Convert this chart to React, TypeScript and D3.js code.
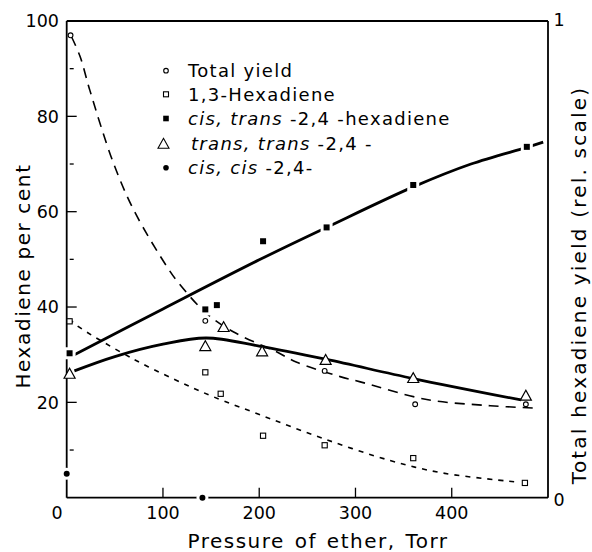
import React from 'react';
import * as d3 from 'd3';

const W = 592;
const H = 552;

// ---- observed points (pressure in Torr) ----
const totalP = [4, 144, 268, 362, 477];
const totalRel = [0.97, 0.371, 0.266, 0.196, 0.196];

const hex13P = [3, 144, 160, 204, 268, 360, 476];
const hex13 = [37, 26.3, 21.8, 13.0, 11.0, 8.3, 3.1];

const ctP = [3, 144, 156, 204, 270, 360, 478];
const ct = [30.3, 39.5, 40.4, 53.8, 56.7, 65.6, 73.6];

const ttP = [3, 144, 163, 203, 269, 360, 477];
const tt = [26.1, 31.9, 35.9, 30.8, 29.0, 25.2, 21.5];

const ccP = [0, 141];
const cc = [5.0, 0];

// ---- hand-drawn fitted curves ----
const totalFitP = [5, 14, 24, 48, 70, 104, 118, 145, 173, 218, 239, 284, 305, 374, 440, 486];
const totalFit = [0.967, 0.925, 0.855, 0.705, 0.602, 0.485, 0.446, 0.387, 0.348, 0.306, 0.284, 0.254, 0.243, 0.206, 0.193, 0.188];

const hex13FitP = [3, 10, 70, 125, 152, 206, 268, 336, 390, 467];
const hex13Fit = [37.5, 36.2, 29, 23.6, 21.2, 17, 12.3, 7.8, 5.2, 3.3];

const ctFitP = [8, 100, 200, 270, 360, 420, 478, 495];
const ctFit = [30, 39.6, 49.9, 56.7, 65.2, 70.0, 73.5, 74.6];

const ttFitP = [8, 50, 100, 145, 200, 270, 360, 472];
const ttFit = [26.6, 29.6, 32.2, 33.5, 31.8, 29.0, 25.0, 20.5];

// ---- axis ticks ----
const xTicks = [100, 200, 300, 400];
const xTickLabels = ['100', '200', '300', '400'];
const yMajor = [20, 40, 60, 80];
const yMinor = [10, 30, 50, 70, 90];
const yLabels = ['20', '40', '60', '80', '100'];
const yLabelVals = [20, 40, 60, 80, 100];

const FONT = 'DejaVu Sans';

export default function App() {
  const x = d3.scaleLinear().domain([0, 500]).range([66.7, 548]);
  const y = d3.scaleLinear().domain([0, 100]).range([497.7, 21]);
  const yR = d3.scaleLinear().domain([0, 1]).range([497.7, 21]);

  const mk = (xs: number[], ys: number[], sc: (v: number) => number) =>
    d3
      .line<number>()
      .x((_, i) => x(xs[i]))
      .y((d) => sc(d))
      .curve(d3.curveCatmullRom.alpha(0.5))(ys) || '';

  const x0 = x(0), x1 = x(500), y0 = y(0), y1 = y(100);

  const tri = (cx: number, cy: number, s = 11) => {
    const h = s * 0.9;
    return `M${cx - s / 2},${cy + h / 2}L${cx + s / 2},${cy + h / 2}L${cx},${cy - h / 2}Z`;
  };

  const legendX = 166;
  const legendTX = 188;
  const legendRows = [70.7, 94.3, 118.5, 143.3, 167.7];

  return (
    <svg width={W} height={H} style={{ position: 'absolute', left: 0, top: 0, background: '#fff' }}
      fontFamily={FONT}>
      <rect width={W} height={H} fill="#fff" />
      {/* frame */}
      <g stroke="#000" strokeWidth={1.8} fill="none">
        <line x1={x0} y1={y1} x2={x0} y2={y0} />
        <line x1={x0} y1={y0} x2={x1} y2={y0} />
        <line x1={x0} y1={y1} x2={x1} y2={y1} />
        <line x1={x1} y1={y1} x2={x1} y2={y0} />
      </g>
      {/* ticks */}
      <g stroke="#000" strokeWidth={1.3}>
        {xTicks.map((t) => (
          <line key={'xt' + t} x1={x(t)} x2={x(t)} y1={y0} y2={y0 - 10} />
        ))}
        {yMajor.map((t) => (
          <line key={'ym' + t} x1={x0} x2={x0 + 10} y1={y(t)} y2={y(t)} />
        ))}
        {yMinor.map((t) => (
          <line key={'yn' + t} x1={x0 + 3} x2={x0 + 7} y1={y(t)} y2={y(t)} />
        ))}
      </g>
      {/* tick labels */}
      <g fontSize={17.5} fill="#000">
        {xTicks.map((t, i) => (
          <text key={'xl' + t} x={x(t)} y={518.5} textAnchor="middle">{xTickLabels[i]}</text>
        ))}
        <text x={57} y={518.5} textAnchor="middle">0</text>
        {yLabelVals.map((t, i) => (
          <text key={'yl' + t} x={59} y={y(t) + 6.4} textAnchor="end">{yLabels[i]}</text>
        ))}
        <text x={559} y={yR(1) + 5} textAnchor="middle">1</text>
        <text x={559} y={yR(0) + 8.5} textAnchor="middle">0</text>
      </g>
      {/* axis titles */}
      <text x={318} y={548} textAnchor="middle" fontSize={20} letterSpacing={1.5} wordSpacing={2}>
        Pressure of ether, Torr
      </text>
      <text transform={`translate(30,276) rotate(-90)`} textAnchor="middle" fontSize={20} letterSpacing={1.6}>
        Hexadiene per cent
      </text>
      <text transform={`translate(586,285) rotate(-90)`} textAnchor="middle" fontSize={20} letterSpacing={2.2}>
        Total hexadiene yield (rel. scale)
      </text>

      {/* fitted curves */}
      <g fill="none" stroke="#000">
        <path d={mk(totalFitP, totalFit, yR)} strokeWidth={1.6} strokeDasharray="10,7" />
        <path d={mk(hex13FitP, hex13Fit, y)} strokeWidth={1.6} strokeDasharray="5,6" />
        <path d={mk(ctFitP, ctFit, y)} strokeWidth={2.8} />
        <path d={mk(ttFitP, ttFit, y)} strokeWidth={2.8} />
      </g>

      {/* markers */}
      {ctP.map((p, i) => (
        <g key={'ct' + i}>
          <rect x={x(p) - 6} y={y(ct[i]) - 6} width={12} height={12} fill="#fff" />
          <rect x={x(p) - 3} y={y(ct[i]) - 3} width={6} height={6} fill="#000" />
        </g>
      ))}
      {ttP.map((p, i) => (
        <path key={'tt' + i} d={tri(x(p), y(tt[i]))} fill="#fff" stroke="#000" strokeWidth={1.2} />
      ))}
      {hex13P.map((p, i) => (
        <rect key={'h' + i} x={x(p) - 2.6} y={y(hex13[i]) - 2.6} width={5.2} height={5.2} fill="#fff" stroke="#000" strokeWidth={1.1} />
      ))}
      {totalP.map((p, i) => (
        <circle key={'t' + i} cx={x(p)} cy={yR(totalRel[i])} r={2.4} fill="#fff" stroke="#000" strokeWidth={1.1} />
      ))}
      {ccP.map((p, i) => (
        <g key={'cc' + i}>
          <circle cx={x(p)} cy={y(cc[i])} r={6} fill="#fff" />
          <circle cx={x(p)} cy={y(cc[i])} r={3} fill="#000" />
        </g>
      ))}

      {/* legend */}
      <g fontSize={18} letterSpacing={1.3}>
        <circle cx={legendX} cy={legendRows[0]} r={2.3} fill="#fff" stroke="#000" strokeWidth={1.1} />
        <text x={legendTX} y={legendRows[0] + 6.5}>Total yield</text>

        <rect x={legendX - 2.5} y={legendRows[1] - 2.5} width={5} height={5} fill="#fff" stroke="#000" strokeWidth={1.1} />
        <text x={legendTX} y={legendRows[1] + 6.5}>1,3-Hexadiene</text>

        <rect x={legendX - 2.8} y={legendRows[2] - 2.8} width={5.6} height={5.6} fill="#000" />
        <text x={legendTX} y={legendRows[2] + 6.5}>
          <tspan fontStyle="italic">cis, trans</tspan> -2,4 -hexadiene
        </text>

        <path d={tri(legendX - 2.5, legendRows[3], 11)} fill="#fff" stroke="#000" strokeWidth={1.1} />
        <text x={legendTX + 3} y={legendRows[3] + 6.5}>
          <tspan fontStyle="italic">trans, trans</tspan> -2,4 -
        </text>

        <circle cx={legendX} cy={legendRows[4]} r={2.8} fill="#000" />
        <text x={legendTX} y={legendRows[4] + 6.5}>
          <tspan fontStyle="italic">cis, cis</tspan> -2,4-
        </text>
      </g>
    </svg>
  );
}
